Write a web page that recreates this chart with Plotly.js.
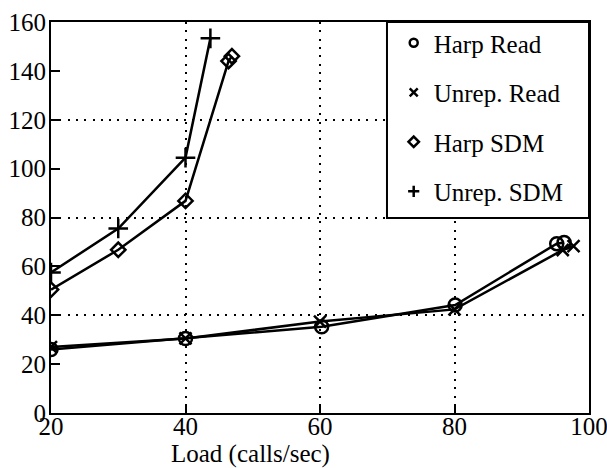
<!DOCTYPE html>
<html>
<head>
<meta charset="utf-8">
<script src="https://cdn.plot.ly/plotly-3.0.1.min.js"></script>
<style>html,body{margin:0;padding:0;background:#fff;}#chart{width:607px;height:468px;}</style>
</head>
<body>
<div id="chart"></div>
<script>
// Data
const loadHarpRead = [20, 40, 60.25, 80.1, 95.2, 96.3];
const harpRead = [26, 30.5, 35.3, 44.2, 69.3, 69.8];
const loadUnrepRead = [20, 40, 60, 80, 96.1, 97.7];
const unrepRead = [27, 30.5, 37.4, 42.4, 66.7, 68.3];
const loadHarpSDM = [20, 30, 40, 46.4, 46.9];
const harpSDM = [50.5, 66.8, 86.8, 144, 146];
const loadUnrepSDM = [20, 30, 40, 43.7];
const unrepSDM = [57.5, 75.5, 104.5, 153.3];
const seriesNames = ['Harp Read', 'Unrep. Read', 'Harp SDM', 'Unrep. SDM'];
const xTicks = [20, 40, 60, 80, 100];
const yTicks = [0, 20, 40, 60, 80, 100, 120, 140, 160];
const yGrid = [40, 80, 120];
const xTitle = 'Load (calls/sec)';

const FONT = 'Liberation Serif, Times New Roman, serif';
const symbols = ['circle-open', 'x-thin-open', 'diamond-open', 'cross-thin-open'];
const sizes = [13, 12, 11, 14];
const xs = [loadHarpRead, loadUnrepRead, loadHarpSDM, loadUnrepSDM];
const ys = [harpRead, unrepRead, harpSDM, unrepSDM];

const traces = [];
for (let i = 0; i < 4; i++) {
  traces.push({
    x: xs[i], y: ys[i], type: 'scatter', mode: 'lines+markers',
    line: {color: '#000', width: 2.5},
    marker: {symbol: symbols[i], size: sizes[i], color: '#000', line: {color: '#000', width: 2.5}},
    showlegend: false, hoverinfo: 'skip'
  });
}
for (let i = 0; i < 4; i++) {
  traces.push({
    x: [null], y: [null], type: 'scatter', mode: 'markers', yaxis: 'y2',
    name: seriesNames[i], legendgroup: 'g' + i,
    marker: {symbol: symbols[i], size: 8, color: '#000', line: {color: '#000', width: 2.5}},
    hoverinfo: 'skip'
  });
}

const layout = {
  width: 607, height: 468,
  margin: {l: 51, r: 18, t: 22, b: 55},
  paper_bgcolor: '#fff', plot_bgcolor: '#fff',
  font: {family: FONT, size: 25, color: '#000'},
  showlegend: true,
  xaxis: {
    range: [20, 100], tickvals: xTicks, ticktext: xTicks.map(String),
    showgrid: true, gridcolor: '#000', gridwidth: 2, griddash: '2px,6.3px',
    zeroline: false, showline: true, linecolor: '#000', linewidth: 2, mirror: true,
    ticks: 'inside', ticklen: 9, tickwidth: 2, tickcolor: '#000',
    tickfont: {family: FONT, size: 25, color: '#000'},
    ticklabelstandoff: -10, ticklabeloverflow: 'allow'
  },
  yaxis: {
    range: [0, 160], tickvals: yTicks, ticktext: yTicks.map(String),
    showgrid: false, zeroline: false, showline: true, linecolor: '#000', linewidth: 2, mirror: true,
    ticks: 'inside', ticklen: 9, tickwidth: 2, tickcolor: '#000',
    tickfont: {family: FONT, size: 25, color: '#000'}, ticklabelstandoff: -2,
    ticklabeloverflow: 'allow'
  },
  yaxis2: {
    overlaying: 'y', range: [0, 160], tickvals: yGrid, showticklabels: false,
    showgrid: true, gridcolor: '#000', gridwidth: 2, griddash: '2px,6.3px',
    zeroline: false, showline: false, ticks: ''
  },
  legend: {
    x: 0.637, xanchor: 'left', y: 1.005, yanchor: 'top',
    bgcolor: 'rgba(0,0,0,0)', borderwidth: 0,
    font: {family: FONT, size: 25, color: '#000'},
    traceorder: 'grouped', tracegroupgap: 14, itemwidth: 30
  },
  annotations: [{
    text: xTitle, xref: 'paper', yref: 'paper', x: 0.37, y: -0.104,
    xanchor: 'center', yanchor: 'middle', showarrow: false,
    font: {family: FONT, size: 25, color: '#000'}
  }],
  shapes: [{
    type: 'rect', xref: 'paper', yref: 'paper', x0: 0.6245, x1: 1, y0: 0.4987, y1: 1,
    fillcolor: '#fff', line: {color: '#000', width: 2}, layer: 'above'
  }]
};

Plotly.newPlot('chart', traces, layout, {displayModeBar: false, staticPlot: true});
</script>
</body>
</html>
